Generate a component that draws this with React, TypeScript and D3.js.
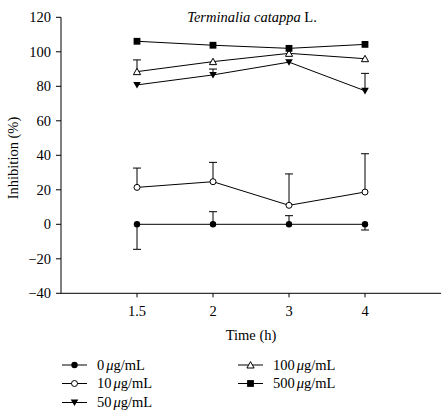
import React from "react";
import * as d3 from "d3";

const categories = ["1.5", "2", "3", "4"];
const yTicks = [-40, -20, 0, 20, 40, 60, 80, 100, 120];

const seriesNames = ["0", "10", "50", "100", "500"];
const seriesSymbols = ["circleFilled", "circleOpen", "triDown", "triUp", "square"];
const values0 = [0, 0, 0, 0];
const err0 = [-14.5, 7.3, 5, -3.3];
const values10 = [21.4, 24.7, 11, 18.7];
const err10 = [32.6, 35.9, 29.2, 40.9];
const values50 = [80.8, 86.6, 94, 77.4];
const err50 = [null, 90, null, 87.5];
const values100 = [88.5, 94.3, 99.1, 96];
const err100 = [95.3, null, null, null];
const values500 = [106.1, 103.8, 102, 104.3];
const err500 = [null, null, null, null];

const allValues = [values0, values10, values50, values100, values500];
const allErr = [err0, err10, err50, err100, err500];

const W = 448, H = 417;
const ax = { left: 61, right: 441, top: 17.3, bottom: 293.3 };
const font = "Liberation Serif, DejaVu Serif, serif";

function Marker({ type, x, y }: { type: string; x: number; y: number }) {
  if (type === "circleFilled") return <circle cx={x} cy={y} r={3.2} fill="#000" />;
  if (type === "circleOpen") return <circle cx={x} cy={y} r={3} fill="#fff" stroke="#000" strokeWidth={1} />;
  if (type === "square") return <rect x={x - 3.4} y={y - 3.4} width={6.8} height={6.8} fill="#000" />;
  if (type === "triDown") return <path d={`M${x - 3.8},${y - 3} L${x + 3.8},${y - 3} L${x},${y + 3.6} Z`} fill="#000" />;
  return <path d={`M${x - 3.6},${y + 3} L${x + 3.6},${y + 3} L${x},${y - 3.4} Z`} fill="#fff" stroke="#000" strokeWidth={1} />;
}

export default function App() {
  const x = d3.scaleLinear().domain([0, 5]).range([ax.left, ax.right]);
  const xi = (i: number) => x(i + 1);
  const y = d3.scaleLinear().domain([-40, 120]).range([ax.bottom, ax.top]);
  const line = d3.line<number>().x((_, i) => xi(i)).y((v) => y(v));

  const legendLeft = [0, 1, 2];
  const legendRight = [3, 4];
  const rowY = [365, 383.5, 402.5];

  const legendItem = (s: number, lx: number, ly: number) => (
    <g key={"lg" + s}>
      <line x1={lx} x2={lx + 25} y1={ly} y2={ly} stroke="#000" strokeWidth={1} />
      <Marker type={seriesSymbols[s]} x={lx + 12.5} y={ly} />
      <text x={lx + 35} y={ly + 4.8} fontSize={14.5} fontFamily={font}>
        {seriesNames[s]}
        <tspan dx={2} fontStyle="italic">μ</tspan>
        <tspan>g/mL</tspan>
      </text>
    </g>
  );

  return (
    <svg width={W} height={H} style={{ position: "absolute", left: 0, top: 0, background: "#fff" }}>
      <rect width={W} height={H} fill="#fff" />
      <line x1={ax.left} x2={ax.left} y1={ax.top} y2={ax.bottom} stroke="#000" strokeWidth={1} />
      <line x1={ax.left} x2={ax.right} y1={ax.bottom} y2={ax.bottom} stroke="#000" strokeWidth={1} />
      {yTicks.map((t) => (
        <g key={t}>
          <line x1={ax.left - 5} x2={ax.left} y1={y(t)} y2={y(t)} stroke="#000" />
          <text x={ax.left - 10} y={y(t) + 5} textAnchor="end" fontSize={14.5} fontFamily={font}>
            {t < 0 ? "\u2212" + Math.abs(t) : t}
          </text>
        </g>
      ))}
      {categories.map((c, i) => (
        <g key={c}>
          <line x1={xi(i)} x2={xi(i)} y1={ax.bottom} y2={ax.bottom + 4} stroke="#000" />
          <text x={xi(i)} y={ax.bottom + 23} textAnchor="middle" fontSize={14.5} fontFamily={font}>{c}</text>
        </g>
      ))}
      <text x={251} y={340} textAnchor="middle" fontSize={14.5} fontFamily={font}>Time (h)</text>
      <text transform={`translate(18,158) rotate(-90)`} textAnchor="middle" fontSize={14.5} fontFamily={font}>Inhibition (%)</text>
      <text x={252} y={22} textAnchor="middle" fontSize={14.5} fontFamily={font}>
        <tspan fontStyle="italic">Terminalia catappa</tspan> L.
      </text>

      {allValues.map((vals, s) => (
        <g key={"s" + s}>
          <path d={line(vals) || ""} fill="none" stroke="#000" strokeWidth={1} />
          {vals.map((v, i) => {
            const e = allErr[s][i];
            if (e === null || e === undefined) return null;
            return (
              <g key={"e" + i}>
                <line x1={xi(i)} x2={xi(i)} y1={y(v)} y2={y(e)} stroke="#000" strokeWidth={1} />
                <line x1={xi(i) - 4} x2={xi(i) + 4} y1={y(e)} y2={y(e)} stroke="#000" strokeWidth={1} />
              </g>
            );
          })}
        </g>
      ))}
      {allValues.map((vals, s) => (
        <g key={"m" + s}>
          {vals.map((v, i) => (
            <Marker key={i} type={seriesSymbols[s]} x={xi(i)} y={y(v)} />
          ))}
        </g>
      ))}

      {legendLeft.map((s, k) => legendItem(s, 62, rowY[k]))}
      {legendRight.map((s, k) => legendItem(s, 238, rowY[k]))}
    </svg>
  );
}
